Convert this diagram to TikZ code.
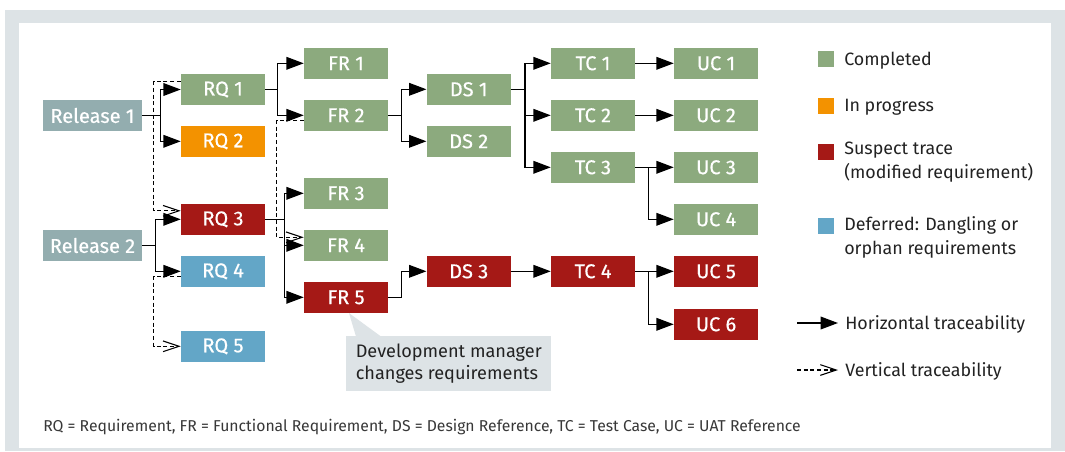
\documentclass[tikz,border=0pt]{standalone}
\usepackage{fontspec}
\setmainfont{Fira Sans}
\newfontfamily\nodefont[FakeBold=0.5]{Fira Sans}
\usetikzlibrary{arrows.meta,calc}
\definecolor{cg}{HTML}{8CAA7E}
\definecolor{co}{HTML}{F39200}
\definecolor{cr}{HTML}{A51916}
\definecolor{cb}{HTML}{63A6C7}
\definecolor{crel}{HTML}{93ADAF}
\definecolor{framec}{HTML}{DDE3E6}
\definecolor{txt}{HTML}{222222}
\begin{document}
\begin{tikzpicture}[x=0.75pt,y=-0.75pt,
  box/.style={minimum width=63pt,minimum height=23.25pt,inner sep=0pt,text=white,font=\nodefont\fontsize{15}{17}\selectfont},
  relbox/.style={box,fill=crel,minimum width=74.25pt},
  gbox/.style={box,fill=cg},
  obox/.style={box,fill=co},
  rbox/.style={box,fill=cr},
  bbox/.style={box,fill=cb},
  harrow/.style={line width=1pt,draw=black,-{Triangle[length=13pt,width=9.5pt]}},
  varrow/.style={line width=0.8pt,draw=black,dash pattern=on 3pt off 2pt,-{Straight Barb[length=12pt,width=8pt,line width=0.8pt]}},
  legtext/.style={anchor=west,inner sep=0pt,text=txt,align=left,font=\fontsize{13.4}{18}\selectfont},
  legsq/.style={minimum size=12pt,inner sep=0pt},
]
\useasboundingbox (0,0) rectangle (1065,451);
\fill[framec] (5,10) rectangle (1065,451);
\fill[white] (19,23) rectangle (1051,447.5);

% nodes
\node[relbox] (rel1) at (92.5,115.5) {Release 1};
\node[relbox] (rel2) at (92.5,245.5) {Release 2};
\node[gbox] (rq1) at (223,89.5) {RQ 1};
\node[obox] (rq2) at (223,141.3) {RQ 2};
\node[rbox] (rq3) at (223,219.3) {RQ 3};
\node[bbox] (rq4) at (223,271.3) {RQ 4};
\node[bbox] (rq5) at (223,346.3) {RQ 5};
\node[gbox] (fr1) at (346,63.3) {FR 1};
\node[gbox] (fr2) at (346,115.3) {FR 2};
\node[gbox] (fr3) at (346,193.3) {FR 3};
\node[gbox] (fr4) at (346,245.3) {FR 4};
\node[rbox] (fr5) at (346,297.3) {FR 5};
\node[gbox] (ds1) at (468.7,89.3) {DS 1};
\node[gbox] (ds2) at (468.7,141.3) {DS 2};
\node[rbox] (ds3) at (468.7,271.3) {DS 3};
\node[gbox] (tc1) at (593,63.3) {TC 1};
\node[gbox] (tc2) at (593,115.3) {TC 2};
\node[gbox] (tc3) at (593,167.3) {TC 3};
\node[rbox] (tc4) at (593,271.3) {TC 4};
\node[gbox] (uc1) at (716,63.3) {UC 1};
\node[gbox] (uc2) at (716,115.3) {UC 2};
\node[gbox] (uc3) at (716,167.3) {UC 3};
\node[gbox] (uc4) at (716,219.3) {UC 4};
\node[rbox] (uc5) at (716,271.3) {UC 5};
\node[rbox] (uc6) at (716,324.3) {UC 6};

% horizontal traceability
\draw[harrow] (rel1.east) -- +(18,0) |- (rq1.west);
\draw[harrow] (rel1.east) -- +(18,0) |- (rq2.west);
\draw[harrow] (rel2.east) -- +(13,0) |- (rq3.west);
\draw[harrow] (rel2.east) -- +(13,0) |- (rq4.west);
\draw[harrow] (rq1.east) -- +(12,0) |- (fr1.west);
\draw[harrow] (rq1.east) -- +(12,0) |- (fr2.west);
\draw[harrow] (rq3.east) -- +(19,0) |- (fr3.west);
\draw[harrow] (rq3.east) -- +(19,0) |- (fr4.west);
\draw[harrow] (rq3.east) -- +(19,0) |- (fr5.west);
\draw[harrow] (fr2.east) -- +(13,0) |- (ds1.west);
\draw[harrow] (fr2.east) -- +(13,0) |- (ds2.west);
\draw[harrow] (fr5.east) -- +(13,0) |- (ds3.west);
\draw[harrow] (ds1.east) -- +(14,0) |- (tc1.west);
\draw[harrow] (ds1.east) -- +(14,0) |- (tc2.west);
\draw[harrow] (ds1.east) -- +(14,0) |- (tc3.west);
\draw[harrow] (ds3.east) -- (tc4.west);
\draw[harrow] (tc1.east) -- (uc1.west);
\draw[harrow] (tc2.east) -- (uc2.west);
\draw[harrow] (tc3.east) -- +(13,0) |- (uc3.west);
\draw[harrow] (tc3.east) -- +(13,0) |- (uc4.west);
\draw[harrow] (tc4.east) -- +(13,0) |- (uc5.west);
\draw[harrow] (tc4.east) -- +(13,0) |- (uc6.west);

% vertical traceability
\draw[varrow] ($(rq1.west)+(0,-8)$) -- +(-27,0) |- ($(rq3.west)+(0,-8.5)$);
\draw[varrow] ($(rq4.west)+(0,5)$) -- +(-27,0) |- (rq5.west);
\draw[varrow] ($(fr2.west)+(0,5)$) -- +(-27,0) |- ($(fr4.west)+(0,-8)$);

% callout
\node[fill=framec,anchor=north west,minimum width=153.75pt,minimum height=41.25pt,inner sep=0pt,
      align=left,text=txt,font=\fontsize{13.6}{16.5}\selectfont] (note) at (346,336)
      {Development manager\\changes requirements};
\fill[framec] ($(fr5.south)+(3,0)$) -- ($(note.north west)+(10,0.5)$) -- ($(note.north west)+(35,0.5)$) -- cycle;

% legend
\node[legsq,fill=cg] (lg1) at (826,59) {};
\node[legtext] (lt1) at (844,60.5) {Completed};
\node[legsq,fill=co] (lg2) at (826,105.5) {};
\node[legtext] (lt2) at (844,107) {In progress};
\node[legsq,fill=cr] (lg3) at (826,152) {};
\node[legtext,anchor=north west] (lt3) at (844,142) {Suspect trace\\(modified requirement)};
\node[legsq,fill=cb] (lg4) at (826,226) {};
\node[legtext,anchor=north west] (lt4) at (844,216) {Deferred: Dangling or\\orphan requirements};
\coordinate (h0) at (797,323);
\coordinate (h1) at (838,323);
\draw[harrow] (h0) -- (h1);
\node[legtext] (lt5) at (845,324) {Horizontal traceability};
\coordinate (v0) at (797,370);
\coordinate (v1) at (838,370);
\draw[varrow] (v0) -- (v1);
\node[legtext] (lt6) at (845,371) {Vertical traceability};

% footnote
\node[anchor=west,inner sep=0pt,text=txt!90,font=\fontsize{11.8}{14}\selectfont] (foot) at (43,427)
  {RQ = Requirement, FR = Functional Requirement, DS = Design Reference, TC = Test Case, UC = UAT Reference};
\end{tikzpicture}
\end{document}
